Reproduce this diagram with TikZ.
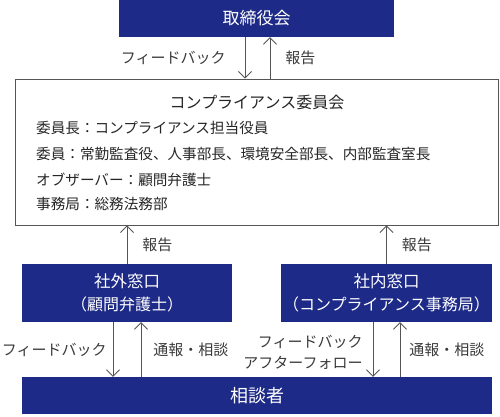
\documentclass[tikz,border=0pt]{standalone}
\usepackage{fontspec}
\setmainfont{Noto Sans CJK JP}
\usepackage{tikz}
\usetikzlibrary{positioning,calc,arrows.meta}
\definecolor{navy}{HTML}{1D2A87}
\definecolor{linegray}{HTML}{555555}
\definecolor{labelgray}{HTML}{3A3A3A}

\begin{document}
\begin{tikzpicture}[x=1pt, y=-1pt,
	>={Straight Barb[length=6.5pt,width=13pt]},
	arr/.style={->, linegray, line width=0.9pt},
	bluebox/.style={fill=navy, text=white, inner sep=0pt, align=center},
	frame/.style={draw=linegray, line width=0.8pt, fill=white},
	lbl/.style={labelgray, inner sep=0pt, font=\fontsize{15}{21}\selectfont, align=right},
	member/.style={anchor=west, inner sep=0pt, text=black!85, font=\fontsize{14.6}{18}\selectfont}]
	\useasboundingbox (0,0) rectangle (500,417);
	% boxes
	\node[bluebox, minimum width=275pt, minimum height=37pt, font=\fontsize{17}{20}\selectfont] (board) at (256.5,18.5) {取締役会};
	\node[frame, minimum width=483pt, minimum height=146pt] (committee) at (256.5,152) {};
	\node[bluebox, minimum width=210pt, minimum height=58pt, font=\fontsize{16.5}{23}\selectfont] (outside) at (127,293) {社外窓口\\{\fontsize{16}{23}\selectfont （顧問弁護士）}};
	\node[bluebox, minimum width=211pt, minimum height=58pt, font=\fontsize{16.5}{23}\selectfont] (inside) at (386.5,293) {社内窓口\\{\fontsize{16}{23}\selectfont （コンプライアンス事務局）}};
	\node[bluebox, minimum width=470pt, minimum height=37pt, font=\fontsize{18}{20}\selectfont] (reporter) at (257,395.5) {相談者};
	% committee text
	\node[inner sep=0pt, text=black!85, font=\fontsize{16}{20}\selectfont] (title) at (257,102) {コンプライアンス委員会};
	\node[member] (chair) at (36,128) {委員長：コンプライアンス担当役員};
	\node[member] (members) at (36,154) {委員：常勤監査役、人事部長、環境安全部長、内部監査室長};
	\node[member] (observer) at (36,180) {オブザーバー：顧問弁護士};
	\node[member] (office) at (36,204) {事務局：総務法務部};
	% connectors
	\draw[arr] ([xshift=-11.5pt]board.south) -- ([xshift=-11.5pt]board.south |- committee.north) node[lbl, midway, left=19pt] {フィードバック};
	\draw[arr] ([xshift=13.5pt]board.south |- committee.north) -- ([xshift=13.5pt]board.south) node[lbl, midway, right=15pt] {報告};
	\draw[arr] (outside.north) -- (outside.north |- committee.south) node[lbl, midway, right=15pt] {報告};
	\draw[arr] (inside.north) -- (inside.north |- committee.south) node[lbl, midway, right=15pt] {報告};
	\draw[arr] ([xshift=-14pt]outside.south) -- ([xshift=-14pt]outside.south |- reporter.north) node[lbl, midway, left=6pt] {フィードバック};
	\draw[arr] ([xshift=14pt]outside.south |- reporter.north) -- ([xshift=14pt]outside.south) node[lbl, midway, right=12pt] {通報・相談};
	\draw[arr] ([xshift=-13.5pt]inside.south) -- ([xshift=-13.5pt]inside.south |- reporter.north) node[lbl, midway, left=10pt, yshift=-3pt] {フィードバック\\アフターフォロー};
	\draw[arr] ([xshift=13.5pt]inside.south |- reporter.north) -- ([xshift=13.5pt]inside.south) node[lbl, midway, right=9pt] {通報・相談};
\end{tikzpicture}
\end{document}
